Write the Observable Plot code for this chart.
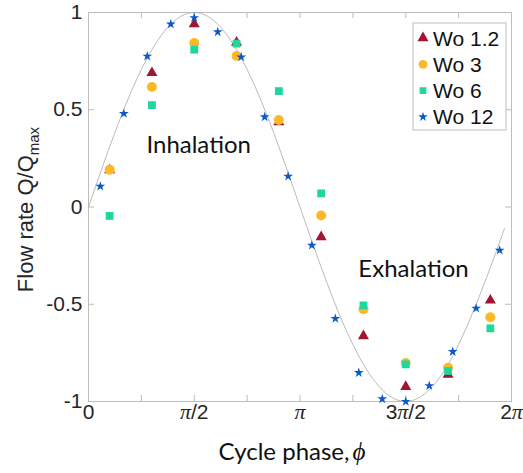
<!DOCTYPE html>
<html>
<head>
<meta charset="utf-8">
<script src="https://cdn.jsdelivr.net/npm/d3@7"></script>
<script src="https://cdn.jsdelivr.net/npm/@observablehq/plot@0.6"></script>
<style>
  html, body { margin: 0; padding: 0; background: #fff; }
  #chart { width: 523px; height: 473px; }
</style>
</head>
<body>
<div id="chart"></div>
<script>
// ---- data (phases in units of π) ----
const phaseCoarse = [0.1, 0.3, 0.5, 0.7, 0.9, 1.1, 1.3, 1.5, 1.7, 1.9];
const wo1_2 = [0.19, 0.69, 0.94, 0.846, 0.437, -0.154, -0.663, -0.924, -0.862, -0.48];
const wo3   = [0.192, 0.617, 0.843, 0.776, 0.447, -0.044, -0.526, -0.802, -0.826, -0.567];
const wo6   = [-0.046, 0.524, 0.809, 0.84, 0.596, 0.07, -0.506, -0.809, -0.843, -0.624];

const phaseFine = [0.056, 0.167, 0.278, 0.389, 0.5, 0.611, 0.722, 0.833, 0.944,
                   1.056, 1.167, 1.278, 1.389, 1.5, 1.611, 1.722, 1.833, 1.944];
const wo12 = [0.106, 0.48, 0.775, 0.94, 0.973, 0.90, 0.771, 0.463, 0.158,
              -0.197, -0.574, -0.852, -0.987, -1.0, -0.919, -0.744, -0.521, -0.223];

// reference curve (phase in π units)
const curvePhase = [0, 0.125, 0.25, 0.375, 0.5, 0.625, 0.75, 0.875, 1, 1.125, 1.25, 1.375, 1.5, 1.625, 1.75, 1.875, 1.967];
const curveValue = [0, 0.383, 0.707, 0.924, 1, 0.924, 0.707, 0.383, 0, -0.383, -0.707, -0.924, -1, -0.924, -0.707, -0.383, -0.11];

const seriesNames = ["Wo 1.2", "Wo 3", "Wo 6", "Wo 12"];
const seriesColors = ["#A2142F", "#FDB827", "#1FD6A0", "#0A5BC6"];
const seriesSymbols = ["triangle", "circle", "square", "star"];
const seriesR = [4.1, 5, 4.4, 3.1];

const xTickLabelsPi = [0, 0.5, 1, 1.5, 2];
const xTickText = ["0", "π/2", "π", "3π/2", "2π"];
const xMinorPi = [0, 0.25, 0.5, 0.75, 1, 1.25, 1.5, 1.75, 2];
const yTicks = [-1, -0.5, 0, 0.5, 1];
const yTickText = ["-1", "-0.5", "0", "0.5", "1"];

const annotations = [
  {phase: 0.274, value: 0.319, text: "Inhalation"},
  {phase: 1.276, value: -0.319, text: "Exhalation"}
];

// ---- build tables ----
const PI = Math.PI;
const coarseSets = [wo1_2, wo3, wo6];
const points = [];
coarseSets.forEach((vals, s) => vals.forEach((v, i) => points.push({x: phaseCoarse[i] * PI, y: v, s})));
wo12.forEach((v, i) => points.push({x: phaseFine[i] * PI, y: v, s: 3}));
const curve = curvePhase.map((p, i) => ({x: p * PI, y: curveValue[i]}));

const W = 523, H = 473;
const mL = 88, mR = 12, mT = 12, mB = 72;
const plotW = W - mL - mR, plotH = H - mT - mB;
const tickLen = 6;
const frameColor = "#bdbdbd";
const sansFont = "'Liberation Sans', Arial, Helvetica, sans-serif";
const labelFont = "Lato, 'Open Sans', sans-serif";
const serifFont = "'Liberation Serif', 'DejaVu Serif', serif";

const dotMarks = [0, 1, 2, 3].map(s =>
  Plot.dot(points.filter(d => d.s === s), {
    x: "x", y: "y", symbol: () => seriesSymbols[s], r: seriesR[s],
    fill: seriesColors[s], stroke: "none"
  })
);

const plot = Plot.plot({
  width: W, height: H,
  marginLeft: mL, marginRight: mR, marginTop: mT, marginBottom: mB,
  style: {fontFamily: sansFont, fontSize: "21px", color: "#262626", background: "#fff", overflow: "visible"},
  x: {domain: [0, 2 * PI], axis: null},
  y: {domain: [-1, 1], axis: null},
  symbol: {type: "identity"},
  marks: [
    Plot.frame({stroke: frameColor}),
    // inward ticks on all four sides
    Plot.ruleX(xMinorPi, {x: d => d * PI, stroke: frameColor, insetTop: plotH - tickLen}),
    Plot.ruleX(xMinorPi, {x: d => d * PI, stroke: frameColor, insetBottom: plotH - tickLen}),
    Plot.ruleY(yTicks, {y: d => d, stroke: frameColor, insetRight: plotW - tickLen}),
    Plot.ruleY(yTicks, {y: d => d, stroke: frameColor, insetLeft: plotW - tickLen}),
    Plot.axisX(xTickLabelsPi.map(d => d * PI), {
      anchor: "bottom", tickSize: 0, tickPadding: 3, label: null,
      tickFormat: (d, i) => xTickText[i], fontSize: 21
    }),
    Plot.axisY(yTicks, {
      anchor: "left", tickSize: 0, tickPadding: 6, label: null,
      tickFormat: (d, i) => yTickText[i], fontSize: 21
    }),
    Plot.line(curve, {x: "x", y: "y", stroke: "#a8a8a8", strokeWidth: 0.8, curve: "natural"}),
    ...dotMarks,
    Plot.text(annotations, {
      x: d => d.phase * PI, y: d => d.value, text: "text",
      textAnchor: "start", lineAnchor: "middle",
      fontFamily: labelFont, fontSize: 24, fill: "#111"
    })
  ]
});

document.getElementById("chart").appendChild(plot);
const svg = d3.select(plot);

// π glyphs in serif italic
svg.selectAll('[aria-label="x-axis tick label"] text').each(function() {
  const t = d3.select(this);
  const s = t.text();
  t.text(null);
  s.split(/(π)/).filter(p => p.length).forEach(p => {
    const ts = t.append("tspan").text(p);
    if (p === "π") ts.attr("font-family", serifFont).attr("font-style", "italic").attr("font-size", 22);
  });
});

// x axis label
const xl = svg.append("text")
  .attr("x", 292).attr("y", 460)
  .attr("text-anchor", "middle")
  .attr("font-family", labelFont).attr("font-size", 24).attr("fill", "#111");
xl.append("tspan").text("Cycle phase,");
xl.append("tspan").text("\u03D5").attr("font-family", serifFont)
  .attr("font-style", "italic").attr("font-size", 25).attr("dx", 3);

// y axis label
const yl = svg.append("text")
  .attr("transform", `translate(33, ${mT + plotH / 2 + 3}) rotate(-90)`)
  .attr("text-anchor", "middle")
  .attr("font-family", sansFont).attr("font-size", 22).attr("fill", "#262626");
yl.append("tspan").text("Flow rate Q/Q");
yl.append("tspan").text("max").attr("font-size", 15).attr("dy", 6);

// legend
const lg = svg.append("g").attr("transform", "translate(413,23)");
lg.append("rect").attr("width", 93).attr("height", 107)
  .attr("fill", "#fff").attr("stroke", frameColor).attr("stroke-width", 1);
const d3sym = {triangle: d3.symbolTriangle, circle: d3.symbolCircle, square: d3.symbolSquare, star: d3.symbolStar};
const legendR = [4.1, 4.4, 3.8, 3.0];
seriesNames.forEach((name, i) => {
  const cy = 15 + i * 26.3;
  lg.append("path")
    .attr("d", d3.symbol(d3sym[seriesSymbols[i]], Math.PI * legendR[i] * legendR[i])())
    .attr("transform", `translate(10,${cy})`)
    .attr("fill", seriesColors[i]);
  lg.append("text").attr("x", 20).attr("y", cy).attr("dy", "0.36em")
    .attr("text-anchor", "start")
    .attr("font-family", sansFont).attr("font-size", 21).attr("fill", "#111").text(name);
});
</script>
</body>
</html>
